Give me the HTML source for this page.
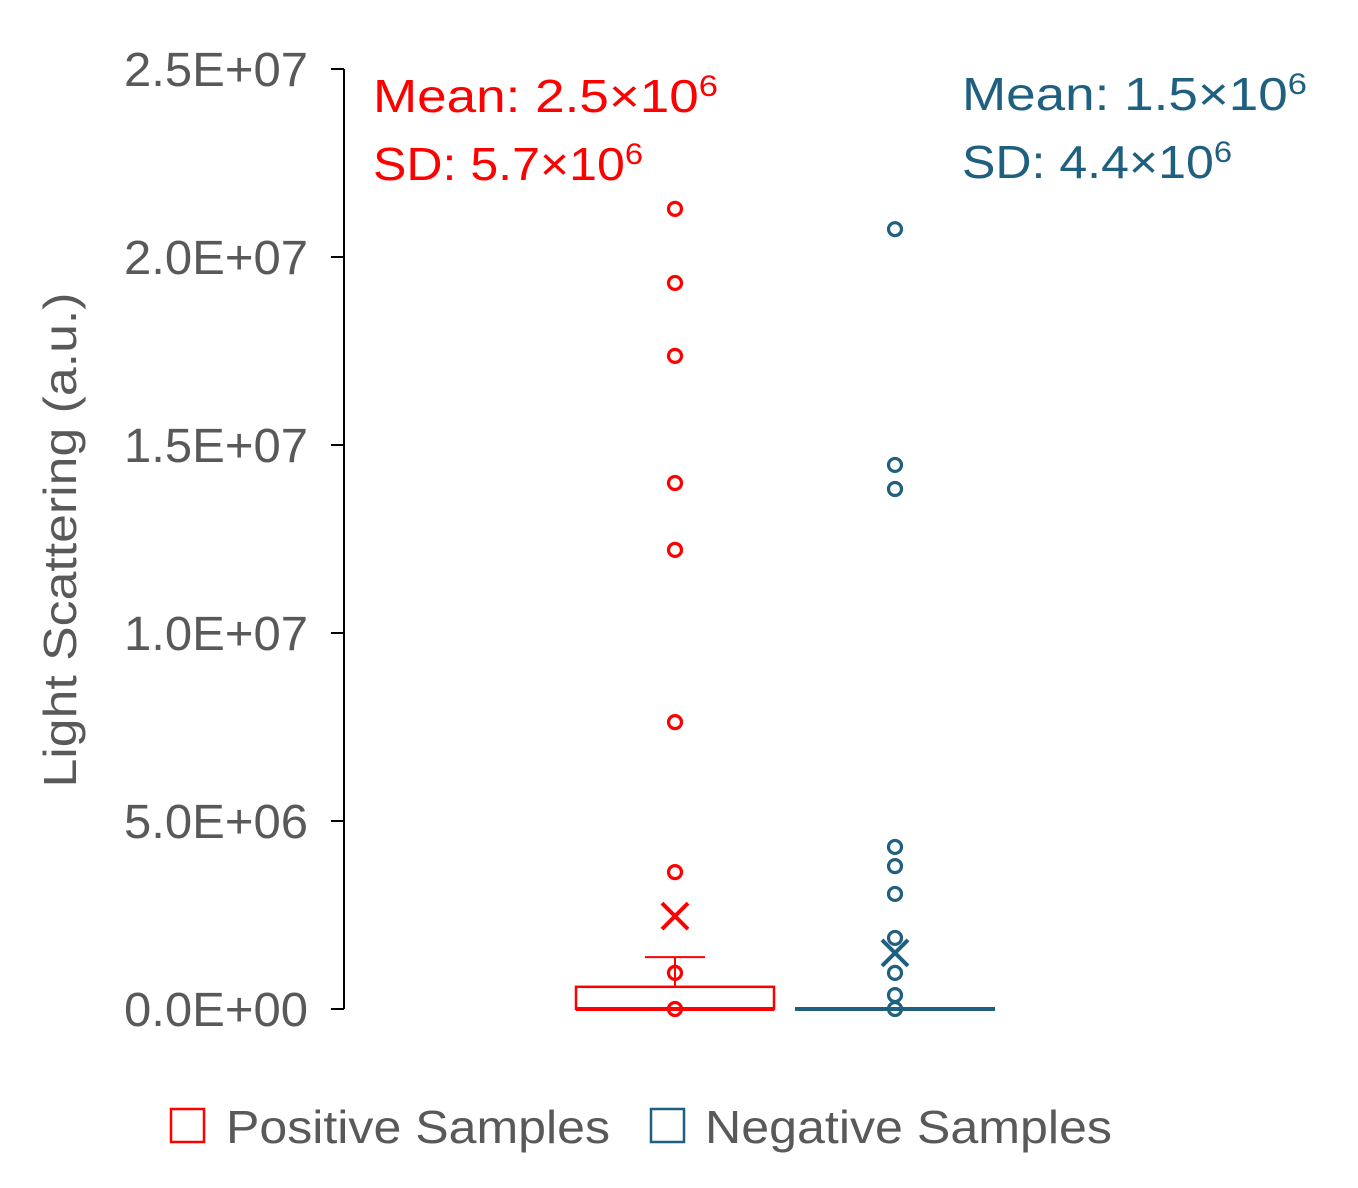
<!DOCTYPE html>
<html><head><meta charset="utf-8"><style>
html,body{margin:0;padding:0;background:#fff;}
svg text{font-family:"Liberation Sans",sans-serif;}
</style></head><body>
<svg id="chart" width="1358" height="1183" viewBox="0 0 1358 1183" xmlns="http://www.w3.org/2000/svg">
<g id="axis"></g>
<text transform="translate(76,540) rotate(-90)" text-anchor="middle" font-size="46" fill="#595959" textLength="495" lengthAdjust="spacingAndGlyphs">Light Scattering (a.u.)</text>
<g id="marks"></g>
<g fill="#ff0000" font-size="46">
<text x="373" y="112" textLength="345" lengthAdjust="spacingAndGlyphs">Mean: 2.5×10<tspan dy="-16" font-size="30">6</tspan></text>
<text x="373" y="180" textLength="270" lengthAdjust="spacingAndGlyphs">SD: 5.7×10<tspan dy="-16" font-size="30">6</tspan></text>
</g>
<g fill="#1f5f80" font-size="46">
<text x="962" y="110" textLength="345" lengthAdjust="spacingAndGlyphs">Mean: 1.5×10<tspan dy="-16" font-size="30">6</tspan></text>
<text x="962" y="178" textLength="270" lengthAdjust="spacingAndGlyphs">SD: 4.4×10<tspan dy="-16" font-size="30">6</tspan></text>
</g>
<g>
<rect x="171" y="1109" width="33" height="33" fill="none" stroke="#ff0000" stroke-width="2.5"/>
<text x="226" y="1143" font-size="46" fill="#595959" textLength="384" lengthAdjust="spacingAndGlyphs">Positive Samples</text>
<rect x="651" y="1109" width="33" height="33" fill="none" stroke="#1f5f80" stroke-width="2.5"/>
<text x="705" y="1143" font-size="46" fill="#595959" textLength="407" lengthAdjust="spacingAndGlyphs">Negative Samples</text>
</g>
</svg>
<script>
const tickValues = [0, 5e6, 1e7, 1.5e7, 2e7, 2.5e7];
const tickLabels = ["0.0E+00","5.0E+06","1.0E+07","1.5E+07","2.0E+07","2.5E+07"];
const positivePoints = [2.128e7, 1.931e7, 1.737e7, 1.399e7, 1.221e7, 7.63e6, 3.64e6, 9.6e5, 0];
const negativePoints = [2.074e7, 1.447e7, 1.383e7, 4.31e6, 3.80e6, 3.06e6, 1.89e6, 9.6e5, 3.7e5, 0];
const positiveMean = 2.47e6;
const negativeMean = 1.49e6;
// box stats: [min, q1, median, q3, whiskerTop]
const positiveBox = [0, 0, 0, 5.9e5, 1.38e6];
const negativeBox = [0, 0, 0, 0, 0];

const NS = "http://www.w3.org/2000/svg";
const y0 = 1009, yTop = 69, vMax = 2.5e7;
function y(v){ return y0 - (v / vMax) * (y0 - yTop); }
function mk(tag, attrs, parent){ const e=document.createElementNS(NS,tag); for(const k in attrs) e.setAttribute(k,attrs[k]); parent.appendChild(e); return e; }

const axis = document.getElementById('axis');
const al = mk('line',{x1:344,x2:344,y1:y(vMax),y2:y(0),stroke:'#000','stroke-width':2},axis);


tickValues.forEach((v,i)=>{
  const t = mk('line',{x1:331,x2:344,y1:y(v),y2:y(v),stroke:'#000','stroke-width':2},axis);
  
  
  const l = mk('text',{x:308,y:y(v)+17,'text-anchor':'end','font-size':48,fill:'#595959',textLength:184,lengthAdjust:'spacingAndGlyphs'},axis);
  l.textContent = tickLabels[i];
  
  
});

const marks = document.getElementById('marks');
function series(cx, w, box, pts, mean, color, name){
  const g = mk('g',{},marks);
  
  
  const hw = w/2;
  if (box[3] > box[1]) {
    const r = mk('rect',{x:cx-hw,y:y(box[3]),width:w,height:y(box[1])-y(box[3]),fill:'none',stroke:color,'stroke-width':2.5},g);
    
    
  }
  const med = mk('line',{x1:cx-hw,x2:cx+hw,y1:y(box[2]),y2:y(box[2]),stroke:color,'stroke-width':4},g);
  
  
  if (box[4] > box[3]) {
    const wl = mk('line',{x1:cx,x2:cx,y1:y(box[3]),y2:y(box[4]),stroke:color,'stroke-width':2},g);
    
    
    const wc = mk('line',{x1:cx-30,x2:cx+30,y1:y(box[4]),y2:y(box[4]),stroke:color,'stroke-width':2},g);
    
    
  }
  pts.forEach(v=>{
    const c = mk('circle',{cx:cx,cy:y(v),r:6.5,fill:'none',stroke:color,'stroke-width':3.2},g);
    
    
  });
  const my = y(mean), s = 13;
  const m = mk('path',{d:`M${cx-s} ${my-s}L${cx+s} ${my+s}M${cx+s} ${my-s}L${cx-s} ${my+s}`,stroke:color,'stroke-width':4,fill:'none'},g);
  
  
}
series(675, 198, positiveBox, positivePoints, positiveMean, '#ff0000', 'positive');
series(895, 200, negativeBox, negativePoints, negativeMean, '#1f5f80', 'negative');
</script>
</body></html>
